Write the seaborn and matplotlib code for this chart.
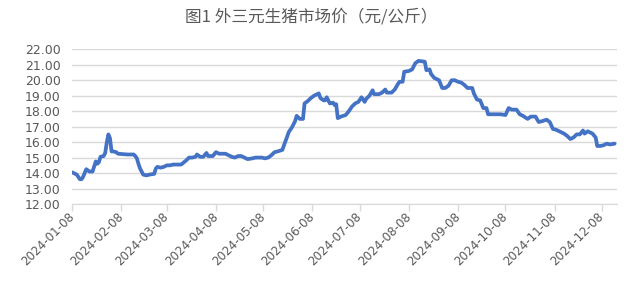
import matplotlib
matplotlib.use("Agg")
import matplotlib.pyplot as plt
import seaborn as sns
import pandas as pd

title = "图1 外三元生猪市场价（元/公斤）"

dates = [
    "01-08", "01-11", "01-13", "01-14", "01-15", "01-17", "01-19", "01-21", "01-23", "01-24",
    "01-25", "01-26", "01-28", "01-29", "01-30", "01-31", "02-01", "02-02", "02-03", "02-05",
    "02-06", "02-12", "02-16", "02-17", "02-18", "02-19", "02-20", "02-21", "02-22", "02-24",
    "02-26", "02-29", "03-01", "03-02", "03-04", "03-06", "03-08", "03-10", "03-12", "03-17",
    "03-20", "03-22", "03-24", "03-26", "03-27", "03-29", "03-31", "04-02", "04-03", "04-06",
    "04-08", "04-10", "04-14", "04-16", "04-18", "04-20", "04-22", "04-24", "04-26", "04-28",
    "05-01", "05-03", "05-05", "05-07", "05-09", "05-11", "05-13", "05-15", "05-17", "05-20",
    "05-21", "05-23", "05-24", "05-26", "05-28", "05-29", "05-31", "06-02", "06-03", "06-05",
    "06-07", "06-09", "06-10", "06-12", "06-13", "06-15", "06-16", "06-17", "06-19", "06-21",
    "06-22", "06-23", "06-24", "06-26", "06-29", "07-01", "07-03", "07-05", "07-07", "07-09",
    "07-11", "07-12", "07-14", "07-16", "07-17", "07-20", "07-22", "07-24", "07-25", "07-28",
    "07-30", "08-01", "08-02", "08-04", "08-05", "08-08", "08-10", "08-12", "08-14", "08-18",
    "08-19", "08-21", "08-22", "08-24", "08-27", "08-29", "08-31", "09-02", "09-04", "09-06",
    "09-08", "09-10", "09-12", "09-14", "09-17", "09-18", "09-20", "09-22", "09-24", "09-26",
    "09-27", "09-29", "10-05", "10-08", "10-10", "10-12", "10-15", "10-17", "10-19", "10-22",
    "10-24", "10-27", "10-29", "10-31", "11-03", "11-05", "11-07", "11-09", "11-11", "11-14",
    "11-16", "11-18", "11-20", "11-22", "11-24", "11-26", "11-27", "11-29", "12-02", "12-04",
    "12-05", "12-07", "12-09", "12-11", "12-13", "12-16",
]

prices = [
    14.05, 13.90, 13.60, 13.60, 13.75, 14.25, 14.10, 14.10, 14.75, 14.60,
    14.70, 15.05, 15.10, 15.30, 16.00, 16.50, 16.25, 15.40, 15.40, 15.35,
    15.25, 15.20, 15.20, 15.10, 14.95, 14.60, 14.30, 14.10, 13.90, 13.85,
    13.90, 13.95, 14.30, 14.40, 14.35, 14.40, 14.50, 14.50, 14.55, 14.55,
    14.80, 15.00, 15.00, 15.05, 15.20, 15.05, 15.05, 15.30, 15.10, 15.10,
    15.35, 15.25, 15.25, 15.15, 15.05, 15.00, 15.10, 15.10, 15.00, 14.90,
    14.95, 15.00, 15.00, 15.00, 14.95, 15.00, 15.15, 15.35, 15.40, 15.50,
    15.80, 16.35, 16.65, 16.95, 17.35, 17.70, 17.50, 17.50, 18.50, 18.65,
    18.85, 19.00, 19.05, 19.15, 18.85, 18.70, 18.70, 18.90, 18.50, 18.55,
    18.40, 18.45, 17.55, 17.65, 17.75, 18.00, 18.30, 18.50, 18.60, 18.90,
    18.60, 18.80, 19.00, 19.35, 19.10, 19.10, 19.20, 19.40, 19.20, 19.20,
    19.40, 19.75, 19.90, 19.90, 20.55, 20.60, 20.70, 21.10, 21.25, 21.20,
    20.65, 20.70, 20.40, 20.15, 20.00, 19.50, 19.50, 19.65, 20.00, 20.00,
    19.90, 19.85, 19.70, 19.50, 19.50, 19.15, 18.75, 18.70, 18.20, 18.20,
    17.80, 17.80, 17.80, 17.75, 18.20, 18.10, 18.10, 17.80, 17.70, 17.50,
    17.65, 17.65, 17.30, 17.35, 17.45, 17.30, 16.85, 16.80, 16.70, 16.55,
    16.40, 16.20, 16.30, 16.50, 16.50, 16.75, 16.55, 16.70, 16.55, 16.30,
    15.75, 15.75, 15.80, 15.90, 15.85, 15.90,
]

tick_dates = [
    "2024-01-08", "2024-02-08", "2024-03-08", "2024-04-08", "2024-05-08", "2024-06-08",
    "2024-07-08", "2024-08-08", "2024-09-08", "2024-10-08", "2024-11-08", "2024-12-08",
]
y_ticks = [12, 13, 14, 15, 16, 17, 18, 19, 20, 21, 22]

sns.set_style("white")
plt.rcParams['font.family'] = ['DejaVu Sans', 'Noto Sans CJK SC']

df = pd.DataFrame({"date": pd.to_datetime(["2024-" + d for d in dates]), "price": prices})

fig = plt.figure(figsize=(6.4, 2.92), dpi=100)
ax = fig.add_axes([72 / 640, 1 - 204 / 292, (617 - 72) / 640, (204 - 49.3) / 292])
sns.lineplot(data=df, x="date", y="price", ax=ax, color="#4472C4", linewidth=2.7)

ax.set_ylim(12, 22)
ax.set_yticks(y_ticks)
ax.set_yticklabels([f"{v:.2f}" for v in y_ticks])
ax.set_xlim(df["date"].iloc[0], df["date"].iloc[-1] + pd.Timedelta(days=1.5))
ax.set_xticks(pd.to_datetime(tick_dates))
ax.set_xticklabels(tick_dates, rotation=45, ha="right", va="center", rotation_mode="anchor")

ax.grid(axis="y", color="#d9d9d9", lw=1)
ax.grid(axis="x", visible=False)
for s in ["top", "right", "left"]:
    ax.spines[s].set_visible(False)
ax.spines["bottom"].set_color("#d9d9d9")
ax.tick_params(axis="y", left=False, length=0, pad=8, labelsize=9, labelcolor="#595959")
ax.tick_params(axis="x", bottom=True, length=5, color="#d9d9d9", width=1, pad=3,
               labelsize=8.6, labelcolor="#595959", direction="out")
for lbl in ax.get_xticklabels():
    lbl.set_x(lbl.get_position()[0])
ax.set_xlabel("")
ax.set_ylabel("")

fig.text(0.486, 1 - 17 / 292, title, ha="center", va="center", fontsize=12, color="#595959",
         family=["Noto Sans CJK SC", "DejaVu Sans"])
fig.savefig("out.png", dpi=100)
